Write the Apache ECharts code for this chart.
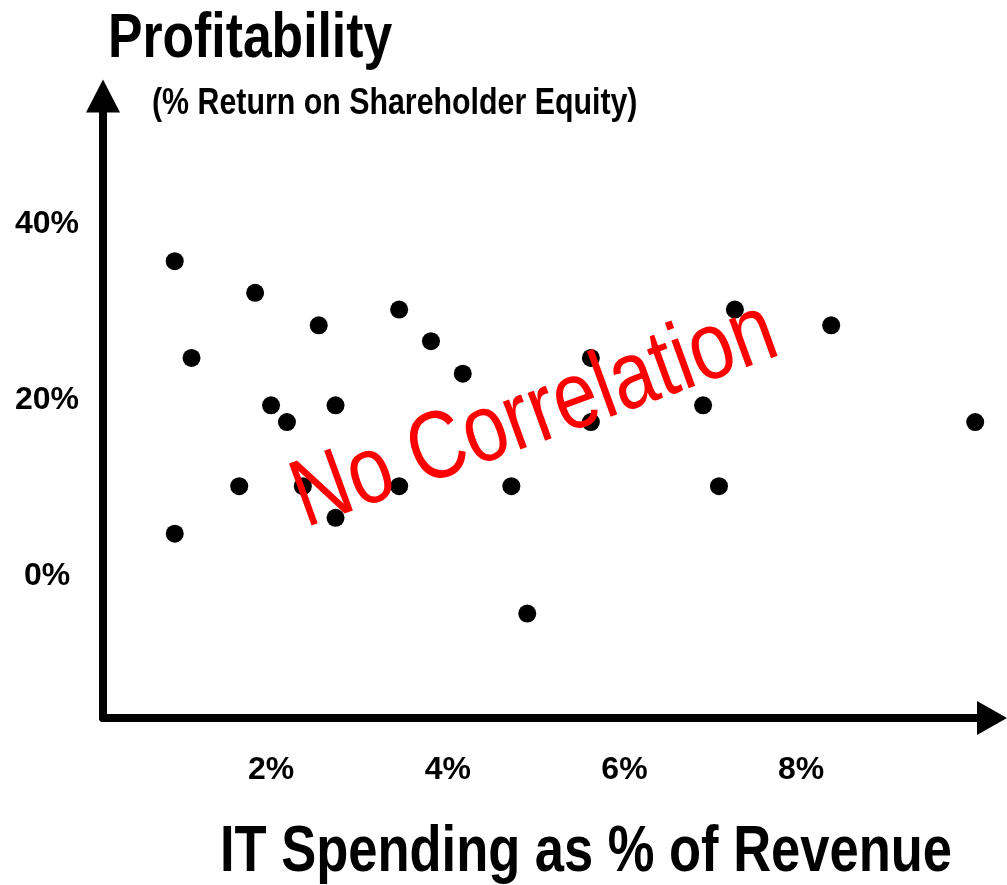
<!DOCTYPE html>
<html>
<head>
<meta charset="utf-8">
<script src="https://cdn.jsdelivr.net/npm/echarts@6/dist/echarts.min.js"></script>
<style>
  html, body { margin: 0; padding: 0; background: #fff; }
  #main { width: 1007px; height: 885px; }
</style>
</head>
<body>
<div id="main"></div>
<script>
// IT spending (% of revenue) vs profitability (% return on equity)
const itSpend = [0.91, 1.10, 0.91, 1.82, 1.64, 2.00, 2.18, 2.54, 2.73, 2.73, 2.36, 3.45,
                 3.81, 3.45, 4.17, 4.72, 4.90, 5.62, 5.62, 6.89, 7.07, 7.25, 8.34, 9.97];
const profit  = [35.8, 24.8, 4.8, 32.2, 10.2, 19.4, 17.5, 28.5, 19.4, 6.6, 10.2, 30.3,
                 26.7, 10.2, 23.0, 10.2, -4.3, 24.8, 17.5, 19.4, 10.2, 30.3, 28.5, 17.5];
const xTicks = [2, 4, 6, 8];
const yTicks = [0, 20, 40];

// no narrow font installed, so Liberation Sans gets squeezed to look like Arial Narrow
const FONT = '"Liberation Sans", Arial, sans-serif';
const NARROW = 0.82;

const points = itSpend.map((x, i) => [x, profit[i]]);

const myChart = echarts.init(document.getElementById('main'));
myChart.setOption({
  animation: false,
  backgroundColor: '#fff',
  grid: { left: 103, right: 15, top: 96, bottom: 167 },
  xAxis: {
    type: 'value',
    min: 0.098,
    max: 10.16,
    splitLine: { show: false },
    axisTick: { show: false },
    axisLine: {
      onZero: false,
      symbol: ['none', 'triangle'],
      symbolSize: [34, 30],
      lineStyle: { color: '#000', width: 8 }
    },
    axisLabel: {
      customValues: xTicks,
      formatter: v => v + '%',
      color: '#000',
      fontFamily: FONT,
      fontWeight: 'bold',
      fontSize: 32,
      margin: 36
    }
  },
  yAxis: {
    type: 'value',
    min: -16.18,
    max: 54.6,
    splitLine: { show: false },
    axisTick: { show: false },
    axisLine: {
      onZero: false,
      symbol: ['none', 'triangle'],
      symbolSize: [34, 33],
      lineStyle: { color: '#000', width: 8 }
    },
    axisLabel: {
      customValues: yTicks,
      formatter: v => v + '%',
      color: '#000',
      fontFamily: FONT,
      fontWeight: 'bold',
      fontSize: 32,
      align: 'center',
      margin: 56
    }
  },
  series: [{
    type: 'scatter',
    data: points,
    symbolSize: 18,
    itemStyle: { color: '#000', opacity: 1 }
  }],
  graphic: [
    {
      type: 'text', left: 108, top: 8, z: 100, scaleX: NARROW,
      style: { text: 'Profitability', fill: '#000', font: 'bold 63px ' + FONT }
    },
    {
      type: 'text', left: 152, top: 85, z: 100, scaleX: NARROW,
      style: { text: '(% Return on Shareholder Equity)', fill: '#000', font: 'bold 37px ' + FONT }
    },
    {
      type: 'text', left: 220, top: 821, z: 100, scaleX: NARROW,
      style: { text: 'IT Spending as % of Revenue', fill: '#000', font: 'bold 64px ' + FONT }
    },
    {
      type: 'text', x: 535, y: 416, z: 100, scaleX: NARROW,
      rotation: 20 * Math.PI / 180,
      style: {
        text: 'No Correlation', fill: '#ff0000', font: '96px ' + FONT,
        align: 'center', verticalAlign: 'middle'
      }
    }
  ]
});
</script>
</body>
</html>
